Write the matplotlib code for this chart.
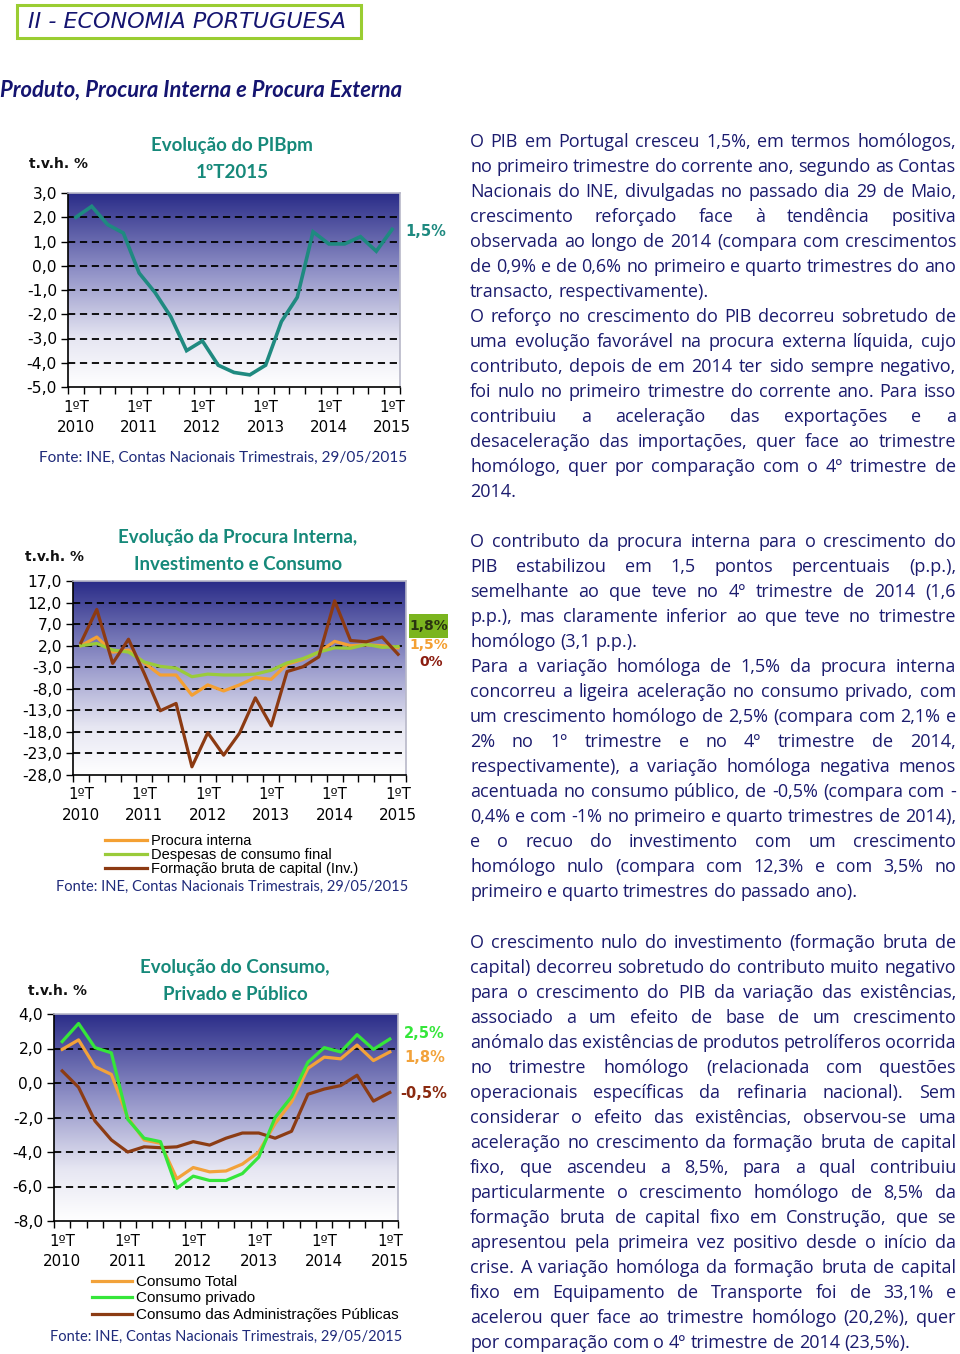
import numpy as np
import matplotlib
matplotlib.use('Agg')
import matplotlib.pyplot as plt
from matplotlib.font_manager import FontProperties
from matplotlib.patches import Rectangle
from matplotlib.colors import LinearSegmentedColormap

# ---------------- DATA ----------------
n_quarters = 21  # 1ºT 2010 ... 1ºT 2015
xtick_pos = [0, 4, 8, 12, 16, 20]
xtick_labels = ["1ºT\n2010", "1ºT\n2011", "1ºT\n2012", "1ºT\n2013", "1ºT\n2014", "1ºT\n2015"]

pib = [2.0, 2.45, 1.7, 1.35, -0.3, -1.1, -2.1, -3.5, -3.1, -4.1, -4.4, -4.5,
       -4.1, -2.3, -1.3, 1.4, 0.9, 0.9, 1.2, 0.6, 1.5]

procura_interna = [2.0, 4.0, 0.5, 1.0, -2.0, -4.8, -4.8, -9.5, -7.1, -8.5, -7.1, -5.4,
                   -5.8, -2.3, -1.2, 0.5, 3.0, 2.0, 2.2, 2.0, 1.5]
consumo_final = [2.0, 2.5, 1.0, 0.5, -1.8, -2.8, -3.2, -5.2, -4.6, -4.8, -4.8, -4.6,
                 -3.7, -2.0, -1.0, 0.5, 1.5, 1.4, 2.3, 1.6, 1.8]
fbc = [2.7, 10.4, -2.1, 3.5, -4.5, -13.1, -11.4, -26.1, -18.2, -23.4, -18.3, -10.1,
       -16.6, -4.0, -2.9, -0.6, 12.4, 3.2, 2.9, 4.0, 0.0]

consumo_total = [1.95, 2.5, 0.95, 0.5, -2.0, -3.3, -3.5, -5.55, -4.9, -5.15, -5.1, -4.7,
                 -4.0, -2.35, -1.1, 0.85, 1.5, 1.4, 2.2, 1.3, 1.8]
consumo_privado = [2.4, 3.45, 2.05, 1.75, -2.1, -3.2, -3.4, -6.1, -5.4, -5.65, -5.65, -5.25,
                   -4.3, -2.0, -0.8, 1.2, 2.05, 1.8, 2.8, 1.95, 2.55]
consumo_publico = [0.7, -0.25, -2.2, -3.3, -4.0, -3.7, -3.75, -3.7, -3.4, -3.6, -3.2, -2.9,
                   -2.9, -3.2, -2.8, -0.65, -0.35, -0.15, 0.45, -1.05, -0.55]

yticks1 = [3.0, 2.0, 1.0, 0.0, -1.0, -2.0, -3.0, -4.0, -5.0]
yticks2 = [17.0, 12.0, 7.0, 2.0, -3.0, -8.0, -13.0, -18.0, -23.0, -28.0]
yticks3 = [4.0, 2.0, 0.0, -2.0, -4.0, -6.0, -8.0]

legend2 = ["Procura interna", "Despesas de consumo final", "Formação bruta de capital (Inv.)"]
legend3 = ["Consumo Total", "Consumo privado", "Consumo das Administrações Públicas"]

para1 = [
    "O PIB em Portugal cresceu 1,5%, em termos homólogos,",
    "no primeiro trimestre do corrente ano, segundo as Contas",
    "Nacionais do INE, divulgadas no passado dia 29 de Maio,",
    "crescimento reforçado face à tendência positiva",
    "observada ao longo de 2014 (compara com crescimentos",
    "de 0,9% e de 0,6% no primeiro e quarto trimestres do ano",
    "*transacto, respectivamente).",
    "O reforço no crescimento do PIB decorreu sobretudo de",
    "uma evolução favorável na procura externa líquida, cujo",
    "contributo, depois de em 2014 ter sido sempre negativo,",
    "foi nulo no primeiro trimestre do corrente ano. Para isso",
    "contribuiu a aceleração das exportações e a",
    "desaceleração das importações, quer face ao trimestre",
    "homólogo, quer por comparação com o 4º trimestre de",
    "*2014.",
]
para2 = [
    "O contributo da procura interna para o crescimento do",
    "PIB estabilizou em 1,5 pontos percentuais (p.p.),",
    "semelhante ao que teve no 4º trimestre de 2014 (1,6",
    "p.p.), mas claramente inferior ao que teve no trimestre",
    "*homólogo (3,1 p.p.).",
    "Para a variação homóloga de 1,5% da procura interna",
    "concorreu a ligeira aceleração no consumo privado, com",
    "um crescimento homólogo de 2,5% (compara com 2,1% e",
    "2% no 1º trimestre e no 4º trimestre de 2014,",
    "respectivamente), a variação homóloga negativa menos",
    "acentuada no consumo público, de -0,5% (compara com -",
    "0,4% e com -1% no primeiro e quarto trimestres de 2014),",
    "e o recuo do investimento com um crescimento",
    "homólogo nulo (compara com 12,3% e com 3,5% no",
    "*primeiro e quarto trimestres do passado ano).",
]
para3 = [
    "O crescimento nulo do investimento (formação bruta de",
    "capital) decorreu sobretudo do contributo muito negativo",
    "para o crescimento do PIB da variação das existências,",
    "associado a um efeito de base de um crescimento",
    "anómalo das existências de produtos petrolíferos ocorrida",
    "no trimestre homólogo (relacionada com questões",
    "operacionais específicas da refinaria nacional). Sem",
    "considerar o efeito das existências, observou-se uma",
    "aceleração no crescimento da formação bruta de capital",
    "fixo, que ascendeu a 8,5%, para a qual contribuiu",
    "particularmente o crescimento homólogo de 8,5% da",
    "formação bruta de capital fixo em Construção, que se",
    "apresentou pela primeira vez positivo desde o início da",
    "crise. A variação homóloga da formação bruta de capital",
    "fixo em Equipamento de Transporte foi de 33,1% e",
    "acelerou quer face ao trimestre homólogo (20,2%), quer",
    "*por comparação com o 4º trimestre de 2014 (23,5%).",
]

# ---------------- FIGURE ----------------
W, H = 960, 1354
fig = plt.figure(figsize=(W / 100, H / 100), dpi=100)
fig.patch.set_facecolor('white')

NAVY = '#1b1b6e'
TEAL = '#1f8a80'
TITLE_TEAL = '#16897a'


def fx(x):
    return x / W


def fy(y):
    return 1 - y / H


def ftext(x, y, s, **kw):
    return fig.text(fx(x), fy(y), s, **kw)


bg_cmap = LinearSegmentedColormap.from_list(
    'bg', [(0.0, '#ffffff'), (0.25, '#e6e6f2'), (0.6, '#8f90c6'), (1.0, '#2a2c88')])


def make_chart(x0, y0, x1, y1, yticks, grid_vals):
    ax = fig.add_axes([fx(x0), fy(y1), (x1 - x0) / W, (y1 - y0) / H])
    grad = np.linspace(0, 1, 256).reshape(-1, 1)
    ax.imshow(grad, extent=(0, 1, 0, 1), transform=ax.transAxes, aspect='auto',
              cmap=bg_cmap, origin='lower', zorder=0, interpolation='bilinear')
    ax.set_xlim(-0.5, n_quarters - 0.5)
    ax.set_ylim(min(yticks), max(yticks))
    for v in grid_vals:
        ax.axhline(v, color='black', lw=1.3, dashes=(4, 2.6), zorder=1)
    ax.set_yticks(yticks)
    ax.set_yticklabels([f"{v:.1f}".replace('.', ',') for v in yticks],
                       fontfamily='DejaVu Sans', fontsize=11.2)
    ax.set_xticks(xtick_pos)
    ax.set_xticklabels(xtick_labels, fontfamily='DejaVu Sans', fontsize=10.8,
                       linespacing=1.45)
    ax.set_xticks(np.arange(-0.5, n_quarters, 1.0), minor=True)
    ax.tick_params(axis='x', which='major', length=0, pad=9)
    ax.tick_params(axis='x', which='minor', length=5, width=1, direction='out')
    ax.tick_params(axis='y', length=5, width=1, direction='out', pad=3)
    for s in ['top', 'right']:
        ax.spines[s].set_color('#b8b8c8')
        ax.spines[s].set_linewidth(1.2)
    for s in ['left', 'bottom']:
        ax.spines[s].set_color('black')
        ax.spines[s].set_linewidth(1.2)
    return ax


x = np.arange(n_quarters)

# ---------- Header ----------
fig.patches.append(Rectangle((fx(17), fy(38)), (361 - 17) / W, (38 - 5) / H,
                             transform=fig.transFigure, fill=False,
                             edgecolor='#9acd32', lw=2.2))
ftext(28, 22, "II - ECONOMIA PORTUGUESA", fontfamily='DejaVu Sans', style='italic',
      fontsize=16, color='#141470', va='center', ha='left')
ftext(0, 90, "Produto, Procura Interna e Procura Externa", fontfamily='Lato',
      style='italic', fontweight='bold', fontsize=15.8, color='#141470',
      va='center', ha='left')

# ---------- Chart 1 ----------
ax1 = make_chart(68, 193, 400, 387, yticks1, [2, 1, 0, -1, -2, -3, -4])
ax1.plot(x, pib, color=TEAL, lw=2.6, zorder=3, solid_joinstyle='miter')
ftext(232, 145, "Evolução do PIBpm", fontfamily='Lato', fontweight='bold',
      fontsize=13.5, color=TITLE_TEAL, ha='center', va='center')
ftext(232, 172, "1ºT2015", fontfamily='Lato', fontweight='bold',
      fontsize=13.5, color=TITLE_TEAL, ha='center', va='center')
ftext(29, 164, "t.v.h. %", fontfamily='DejaVu Sans', fontweight='bold',
      fontsize=10, color='#111111', ha='left', va='center')
ftext(405, 231, "1,5%", fontfamily='DejaVu Sans', fontweight='bold',
      fontsize=10.5, color=TEAL, ha='left', va='center')
ftext(39, 458, "Fonte: INE, Contas Nacionais Trimestrais, 29/05/2015",
      fontfamily='Lato', fontsize=11.1, color='#1f2a7a', ha='left', va='center')

# ---------- Chart 2 ----------
ORANGE2 = '#f4a033'
GREEN2 = '#9acb3a'
BROWN2 = '#8c3a12'
ax2 = make_chart(73, 581, 406, 775, yticks2, [12, 7, 2, -3, -8, -13, -18, -23])
l21, = ax2.plot(x, procura_interna, color=ORANGE2, lw=2.3, zorder=3)
l22, = ax2.plot(x, consumo_final, color=GREEN2, lw=2.3, zorder=3)
l23, = ax2.plot(x, fbc, color=BROWN2, lw=2.3, zorder=4)
ftext(238, 537, "Evolução da Procura Interna,", fontfamily='Lato', fontweight='bold',
      fontsize=13.5, color=TITLE_TEAL, ha='center', va='center')
ftext(238, 565, "Investimento e Consumo", fontfamily='Lato', fontweight='bold',
      fontsize=13.5, color=TITLE_TEAL, ha='center', va='center')
ftext(25, 557, "t.v.h. %", fontfamily='DejaVu Sans', fontweight='bold',
      fontsize=10, color='#111111', ha='left', va='center')
fig.patches.append(Rectangle((fx(409), fy(638)), 39 / W, 24 / H,
                             transform=fig.transFigure, facecolor='#7bb51f',
                             edgecolor='none'))
ftext(429, 626, "1,8%", fontfamily='DejaVu Sans', fontweight='bold',
      fontsize=10, color='#2a3310', ha='center', va='center')
ftext(429, 645, "1,5%", fontfamily='DejaVu Sans', fontweight='bold',
      fontsize=10, color=ORANGE2, ha='center', va='center')
ftext(431, 662, "0%", fontfamily='DejaVu Sans', fontweight='bold',
      fontsize=10, color='#8b1d10', ha='center', va='center')
fig.legend([l21, l22, l23], legend2, loc='upper left',
           bbox_to_anchor=(fx(105), fy(834)), frameon=False,
           prop=FontProperties(family='Liberation Sans', size=10.5),
           handlelength=2.9, handletextpad=0.25, labelspacing=0.0,
           borderpad=0, borderaxespad=0)
ftext(56, 887, "Fonte: INE, Contas Nacionais Trimestrais, 29/05/2015",
      fontfamily='Lato', fontsize=10.5, color='#1f2a7a', ha='left', va='center')

# ---------- Chart 3 ----------
ORANGE3 = '#f2a23a'
GREEN3 = '#35e63a'
BROWN3 = '#8c3c14'
ax3 = make_chart(54, 1014, 398, 1221, yticks3, [2, 0, -2, -4, -6])
l31, = ax3.plot(x, consumo_total, color=ORANGE3, lw=2.3, zorder=3)
l32, = ax3.plot(x, consumo_privado, color=GREEN3, lw=2.3, zorder=4)
l33, = ax3.plot(x, consumo_publico, color=BROWN3, lw=2.3, zorder=3)
ftext(235, 967, "Evolução do Consumo,", fontfamily='Lato', fontweight='bold',
      fontsize=13.5, color=TITLE_TEAL, ha='center', va='center')
ftext(235, 994, "Privado e Público", fontfamily='Lato', fontweight='bold',
      fontsize=13.5, color=TITLE_TEAL, ha='center', va='center')
ftext(28, 991, "t.v.h. %", fontfamily='DejaVu Sans', fontweight='bold',
      fontsize=10, color='#111111', ha='left', va='center')
ftext(404, 1034, "2,5%", fontfamily='DejaVu Sans', fontweight='bold',
      fontsize=10.5, color=GREEN3, ha='left', va='center')
ftext(404, 1057, "1,8%", fontfamily='DejaVu Sans', fontweight='bold',
      fontsize=10.5, color=ORANGE3, ha='left', va='center')
ftext(400, 1093, "-0,5%", fontfamily='DejaVu Sans', fontweight='bold',
      fontsize=10.5, color='#8b2a10', ha='left', va='center')
fig.legend([l31, l32, l33], legend3, loc='upper left',
           bbox_to_anchor=(fx(92), fy(1275)), frameon=False,
           prop=FontProperties(family='Liberation Sans', size=11),
           handlelength=2.6, handletextpad=0.25, labelspacing=0.16,
           borderpad=0, borderaxespad=0)
ftext(50, 1337, "Fonte: INE, Contas Nacionais Trimestrais, 29/05/2015",
      fontfamily='Lato', fontsize=10.55, color='#1f2a7a', ha='left', va='center')

# ---------- Justified text column ----------
renderer = fig.canvas.get_renderer()
TX0, TX1 = 470, 956
body_prop = FontProperties(family='Open Sans', size=13.0)


def text_w(s, prop):
    w, h, d = renderer.get_text_width_height_descent(s, prop, ismath=False)
    return w


space_w = text_w("a a", body_prop) - text_w("aa", body_prop)


def draw_block(lines, y_base, step=25):
    for i, line in enumerate(lines):
        last = line.startswith('*')
        if last:
            line = line[1:]
        words = line.split(' ')
        widths = [text_w(wd, body_prop) for wd in words]
        if last or len(words) == 1:
            gap = space_w
        else:
            gap = (TX1 - TX0 - sum(widths)) / (len(words) - 1)
        xpos = TX0
        y = y_base + i * step
        for wd, ww in zip(words, widths):
            fig.text(fx(xpos), fy(y), wd, fontproperties=body_prop, color=NAVY,
                     ha='left', va='baseline')
            xpos += ww + gap


draw_block(para1, 147)
draw_block(para2, 547)
draw_block(para3, 948)

fig.savefig('out.png', dpi=100)
